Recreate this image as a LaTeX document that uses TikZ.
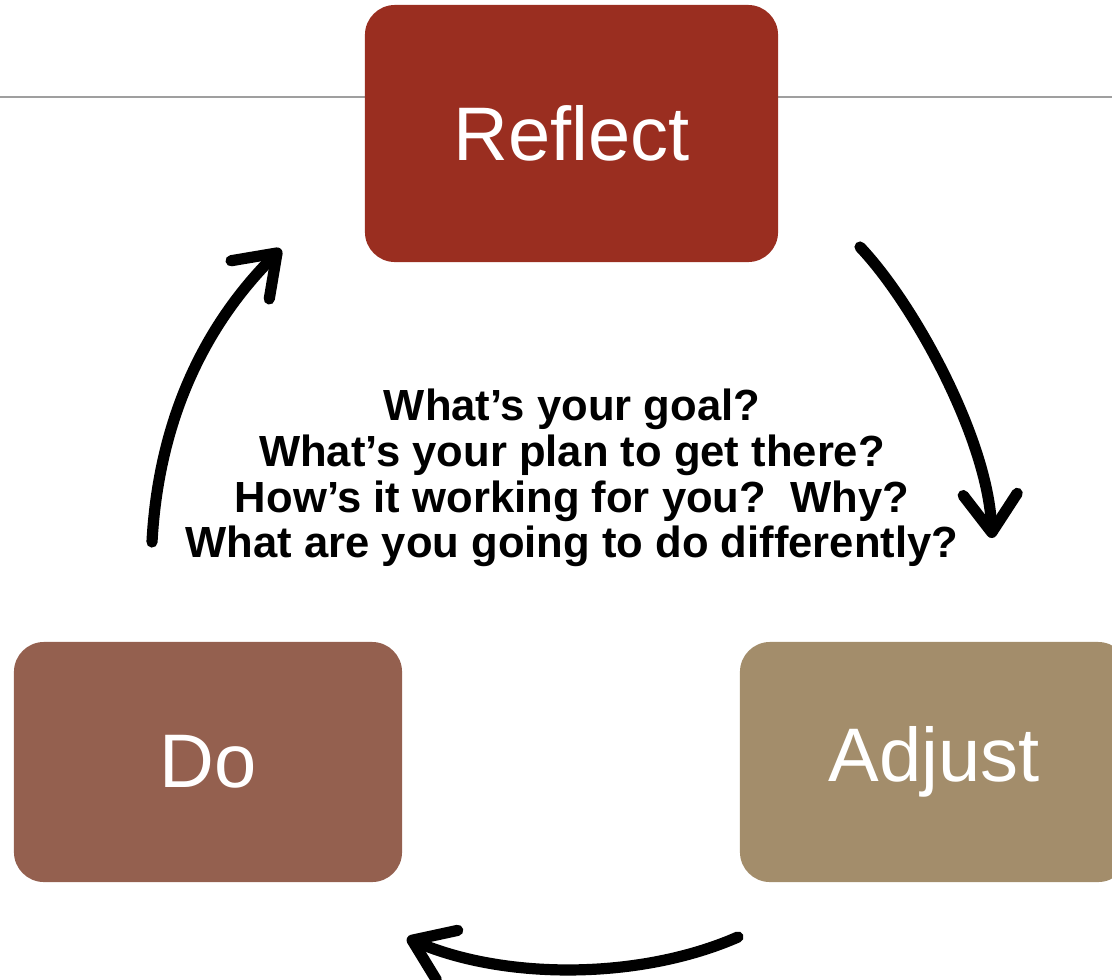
\documentclass[tikz,border=0pt]{standalone}
\usepackage{fontspec}
\setmainfont{Liberation Sans}
\usetikzlibrary{arrows.meta}

\definecolor{reflectred}{HTML}{9A2E20}
\definecolor{dobrown}{HTML}{94604F}
\definecolor{adjusttan}{HTML}{A38D6B}

\tikzset{
  stage/.style={rounded corners=0.75cm, text=white, font=\fontsize{54}{60}\selectfont,
    minimum width=9.7cm, minimum height=6cm, inner sep=0pt},
  cycle/.style={line width=0.28cm, line cap=round,
    -{Straight Barb[length=0.95cm, width=1.35cm, round]}},
  ask/.style={font=\bfseries\fontsize{31}{32.5}\selectfont, align=center}
}

\begin{document}
\begin{tikzpicture}[x=0.025cm, y=-0.025cm]
\clip (0,0) rectangle (1112,980);

\draw[gray!75, line width=1.3pt] (0,97) -- (1112,97);

\node[stage, fill=reflectred, minimum width=10.325cm, minimum height=6.425cm] (reflect) at (571.5,133.5) {Reflect};
\node[stage, fill=dobrown] (do) at (208,762) {Do};
\node[stage, fill=adjusttan] (adjust) at (934,762) {Adjust};

\node[ask] (questions) at (572,478) {What’s your goal?\\What’s your plan to get there?\\How’s it working for you?~~Why?\\What are you going to do differently?};

\coordinate (doout) at (152,542);
\coordinate (reflectin) at (281,249);
\coordinate (reflectout) at (860,247);
\coordinate (adjustin) at (992,538);
\coordinate (adjustout) at (738,937);
\coordinate (doin) at (407,938);

\draw[cycle] (doout) .. controls (158,430) and (198,332) .. (reflectin);
\draw[cycle] (reflectout) .. controls (915,305) and (988,440) .. (adjustin);
\draw[cycle] (adjustout) .. controls (640,980) and (505,980) .. (doin);
\end{tikzpicture}
\end{document}
